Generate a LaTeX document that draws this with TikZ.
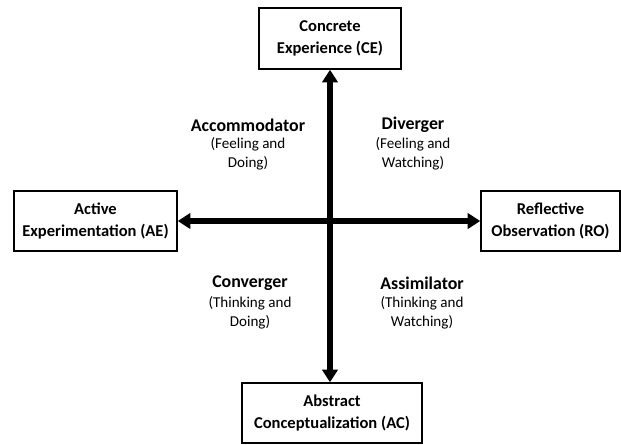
\documentclass[tikz,border=0pt]{standalone}
\usepackage{fontspec}
\setmainfont{Carlito}
\usetikzlibrary{arrows.meta}

\tikzset{
  stage/.style={draw, line width=1.1pt, align=center, inner sep=0.75pt, font=\fontsize{12.4}{16.5}\selectfont\bfseries},
  style name/.style={inner sep=0.75pt, font=\fontsize{13.4}{16}\selectfont\bfseries},
  style desc/.style={inner sep=0.75pt, align=center, font=\fontsize{11.3}{14.3}\selectfont},
  axis/.style={line width=3.8pt, {Triangle[length=9.5pt,width=11.5pt]}-{Triangle[length=9.5pt,width=11.5pt]}}
}

\begin{document}
\begin{tikzpicture}[x=0.75pt,y=0.75pt,yscale=-1,xscale=1]
\useasboundingbox (0,0) rectangle (621,444);

% Stages of the cycle
\node [stage, minimum width=106.5pt, minimum height=45.75pt] (ce) at (330,38.5) {Concrete\\Experience (CE)};
\node [stage, minimum width=122.25pt, minimum height=45pt] (ae) at (95.5,221) {Active\\Experimentation (AE)};
\node [stage, minimum width=104.25pt, minimum height=45pt] (ro) at (550.5,221) {Reflective\\Observation (RO)};
\node [stage, minimum width=135pt, minimum height=45pt] (ac) at (332,413) {Abstract\\Conceptualization (AC)};

% Axes
\draw [axis] (ce.south) -- (ce.south |- ac.north);
\draw [axis] (ae.east) -- (ro.west);

% Learning styles
\node [style name] (acc) at (248,125) {Accommodator};
\node [style desc] (accdesc) at (248,153.5) {(Feeling and\\Doing)};
\node [style name] (div) at (413,125) {Diverger};
\node [style desc] (divdesc) at (413,153.5) {(Feeling and\\Watching)};
\node [style name] (con) at (250,283) {Converger};
\node [style desc] (condesc) at (250,312.5) {(Thinking and\\Doing)};
\node [style name] (ass) at (422,283) {Assimilator};
\node [style desc] (assdesc) at (422,312.5) {(Thinking and\\Watching)};

\end{tikzpicture}
\end{document}
